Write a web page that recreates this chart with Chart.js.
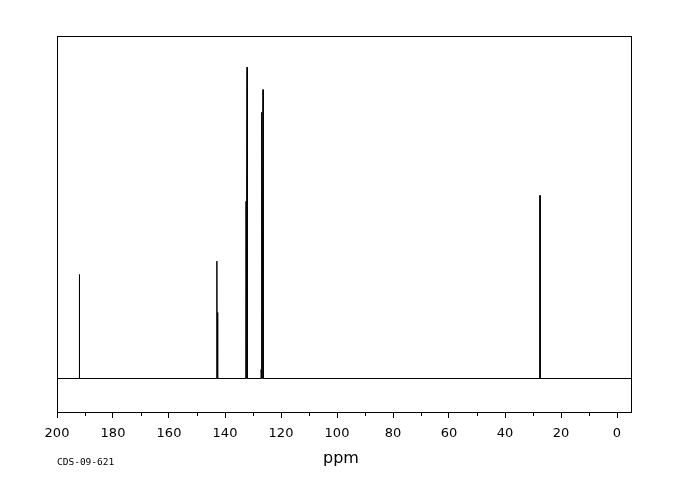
<!DOCTYPE html>
<html>
<head>
<meta charset="utf-8">
<script src="https://cdn.jsdelivr.net/npm/chart.js@4/dist/chart.umd.min.js"></script>
<style>
  html, body { margin: 0; padding: 0; background: #fff; }
  #wrap { width: 680px; height: 500px; position: relative; }
</style>
</head>
<body>
<div id="wrap"><canvas id="nmr"></canvas></div>
<script>
// Picos do espectro (ppm) e intensidades relativas (maior pico = 100)
const peakPpm    = [192.0, 142.9, 142.6, 132.5, 132.1, 127.1, 126.8, 126.4, 27.5];
const peakHeight = [33.4,  37.7,  21.2,  56.9,  100,   2.9,   85.5,  92.8,  58.8];

// Eixo x (invertido, 200 -> -5)
const xMax = 200;
const xMin = -5;
const majorTicks = [200, 180, 160, 140, 120, 100, 80, 60, 40, 20, 0];
const minorTicks = [190, 170, 150, 130, 110, 90, 70, 50, 30, 10];

const axisTitle = 'ppm';
const sampleId = 'CDS-09-621';

// monta a linha: base em 0, cada pico sobe e desce
const spectrum = [{ x: xMax, y: 0 }];
peakPpm.forEach((p, i) => {
    spectrum.push({ x: p + 0.05, y: 0 });
    spectrum.push({ x: p, y: peakHeight[i] });
    spectrum.push({ x: p - 0.05, y: 0 });
});
spectrum.push({ x: xMin, y: 0 });

// caixa, ticks menores e textos extras
const framePlugin = {
    id: 'frame',
    afterDraw(chart) {
        const ctx = chart.ctx;
        const a = chart.chartArea;
        const xs = chart.scales.x;
        ctx.save();
        ctx.strokeStyle = '#000';
        ctx.lineWidth = 1;
        ctx.strokeRect(a.left + 0.5, a.top + 0.5, a.right - a.left, a.bottom - a.top);

        // ticks menores (mais curtos)
        ctx.beginPath();
        minorTicks.forEach(v => {
            const px = Math.round(xs.getPixelForValue(v)) + 0.5;
            ctx.moveTo(px, a.bottom);
            ctx.lineTo(px, a.bottom + 4);
        });
        ctx.stroke();

        ctx.fillStyle = '#000';
        ctx.font = '16px "DejaVu Sans"';
        ctx.textAlign = 'center';
        ctx.textBaseline = 'alphabetic';
        ctx.fillText(axisTitle, (a.left + a.right) / 2 - 3, 463);

        ctx.font = '9.5px "DejaVu Sans Mono"';
        ctx.textAlign = 'left';
        ctx.fillText(sampleId, 57, 465);
        ctx.restore();
    }
};

const ctx = document.getElementById('nmr').getContext('2d');
const chart = new Chart(ctx, {
    type: 'line',
    data: {
        datasets: [{
            data: spectrum,
            borderColor: '#000',
            borderWidth: 1,
            pointRadius: 0,
            tension: 0,
            fill: false
        }]
    },
    options: {
        responsive: true,
        maintainAspectRatio: false,
        animation: false,
        layout: { padding: { left: 57, right: 49, top: 36, bottom: 0 } },
        plugins: {
            legend: { display: false },
            tooltip: { enabled: false }
        },
        scales: {
            x: {
                type: 'linear',
                reverse: true,
                min: xMin,
                max: xMax,
                afterBuildTicks: (scale) => {
                    scale.ticks = majorTicks.map(v => ({ value: v }));
                },
                afterFit: (scale) => { scale.height = 88; },
                border: { display: false },
                grid: {
                    drawOnChartArea: false,
                    drawTicks: true,
                    tickLength: 6,
                    tickColor: '#000',
                    tickWidth: 1
                },
                ticks: {
                    color: '#000',
                    padding: 8,
                    maxRotation: 0,
                    autoSkip: false,
                    font: { family: 'DejaVu Sans', size: 13 }
                }
            },
            y: {
                display: false,
                min: -10.76,
                max: 110.02
            }
        }
    },
    plugins: [framePlugin]
});
</script>
</body>
</html>
